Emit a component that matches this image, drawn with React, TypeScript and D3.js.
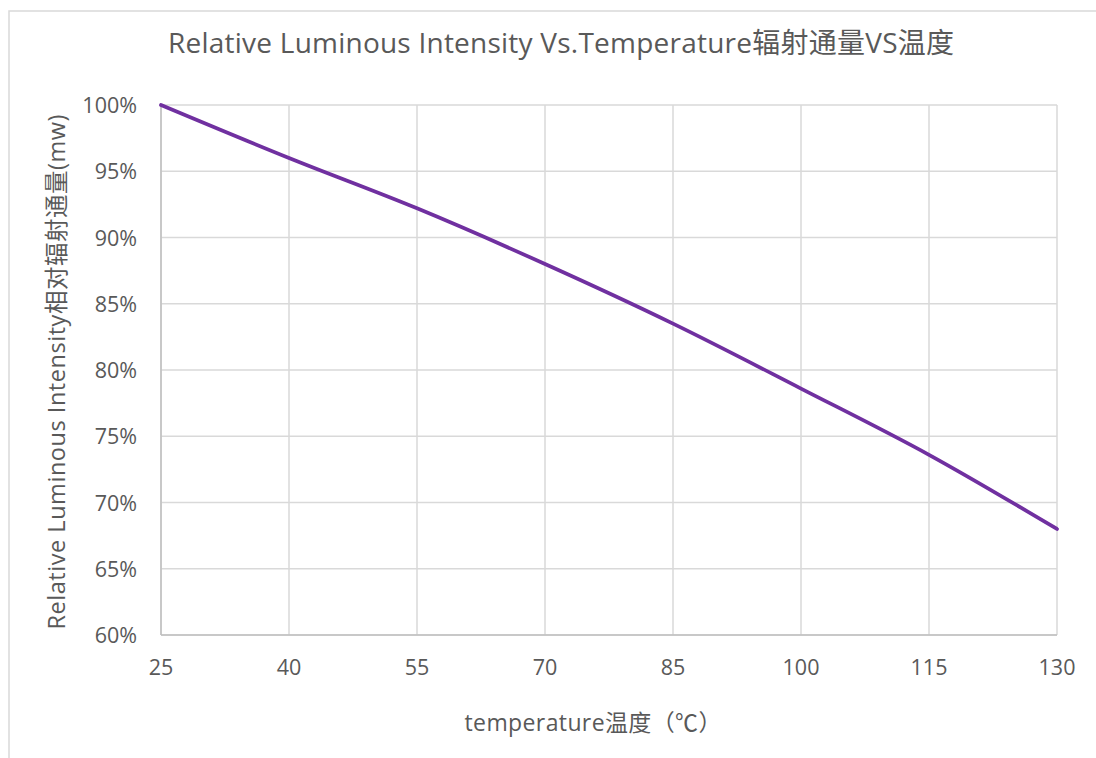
import React from "react";
import * as d3 from "d3";

const temps = [25, 40, 55, 70, 85, 100, 115, 130];
const intensity = [1.0, 0.96, 0.922, 0.88, 0.835, 0.786, 0.736, 0.68];
const xTicks = [25, 40, 55, 70, 85, 100, 115, 130];
const yTicks = [0.6, 0.65, 0.7, 0.75, 0.8, 0.85, 0.9, 0.95, 1.0];

const title = "Relative Luminous Intensity Vs.Temperature辐射通量VS温度";
const xTitle = "temperature温度（℃）";
const yTitle = "Relative Luminous Intensity相对辐射通量(mw)";

const W = 1096;
const H = 758;
const M = { left: 161, right: 1057, top: 105, bottom: 635 };
const FONT = "'Open Sans', 'Noto Sans CJK SC', sans-serif";
const TXT = "#595959";

export default function App() {
  const x = d3.scaleLinear().domain([25, 130]).range([M.left, M.right]);
  const y = d3.scaleLinear().domain([0.6, 1.0]).range([M.bottom, M.top]);
  const pts: [number, number][] = temps.map((t, i) => [t, intensity[i]]);
  const line = d3
    .line<[number, number]>()
    .x((d) => x(d[0]))
    .y((d) => y(d[1]))
    .curve(d3.curveMonotoneX);
  const fmt = d3.format(".0%");

  return (
    <div style={{ position: "fixed", left: 0, top: 0 }}>
      <svg width={W} height={H} style={{ display: "block", background: "#fff" }}>
        <rect x={9} y={11} width={W + 20} height={H + 20} fill="#fff" stroke="#d9d9d9" strokeWidth={1.5} />
        <text x={561} y={53} textAnchor="middle" fontFamily={FONT} fontSize={28} fill={TXT} textLength={786} lengthAdjust="spacing">
          {title}
        </text>
        {yTicks.map((t) => (
          <line key={"gy" + t} x1={M.left} x2={M.right} y1={y(t)} y2={y(t)} stroke="#d9d9d9" strokeWidth={1.5} />
        ))}
        {xTicks.map((t) => (
          <line key={"gx" + t} x1={x(t)} x2={x(t)} y1={M.top} y2={M.bottom} stroke="#d9d9d9" strokeWidth={1.5} />
        ))}
        <line x1={M.left} x2={M.left} y1={M.top} y2={M.bottom} stroke="#bfbfbf" strokeWidth={1.5} />
        <line x1={M.left} x2={M.right} y1={M.bottom} y2={M.bottom} stroke="#bfbfbf" strokeWidth={1.5} />
        {yTicks.map((t) => (
          <text key={"ly" + t} x={137} y={y(t) + 8} textAnchor="end" fontFamily={FONT} fontSize={21.5} fill={TXT}>
            {fmt(t)}
          </text>
        ))}
        {xTicks.map((t) => (
          <text key={"lx" + t} x={x(t)} y={675} textAnchor="middle" fontFamily={FONT} fontSize={21.5} fill={TXT}>
            {t}
          </text>
        ))}
        <path d={line(pts) || ""} fill="none" stroke="#7030A0" strokeWidth={3.75} strokeLinecap="round" />
        <text x={593} y={731} textAnchor="middle" fontFamily={FONT} fontSize={23} fill={TXT} textLength={257} lengthAdjust="spacing">
          {xTitle}
        </text>
        <text
          transform={`translate(65, ${(M.top + M.bottom) / 2 + 2}) rotate(-90)`}
          textAnchor="middle"
          fontFamily={FONT}
          fontSize={23.5}
          fill={TXT}
          textLength={515}
          lengthAdjust="spacing"
        >
          {yTitle}
        </text>
      </svg>
    </div>
  );
}
